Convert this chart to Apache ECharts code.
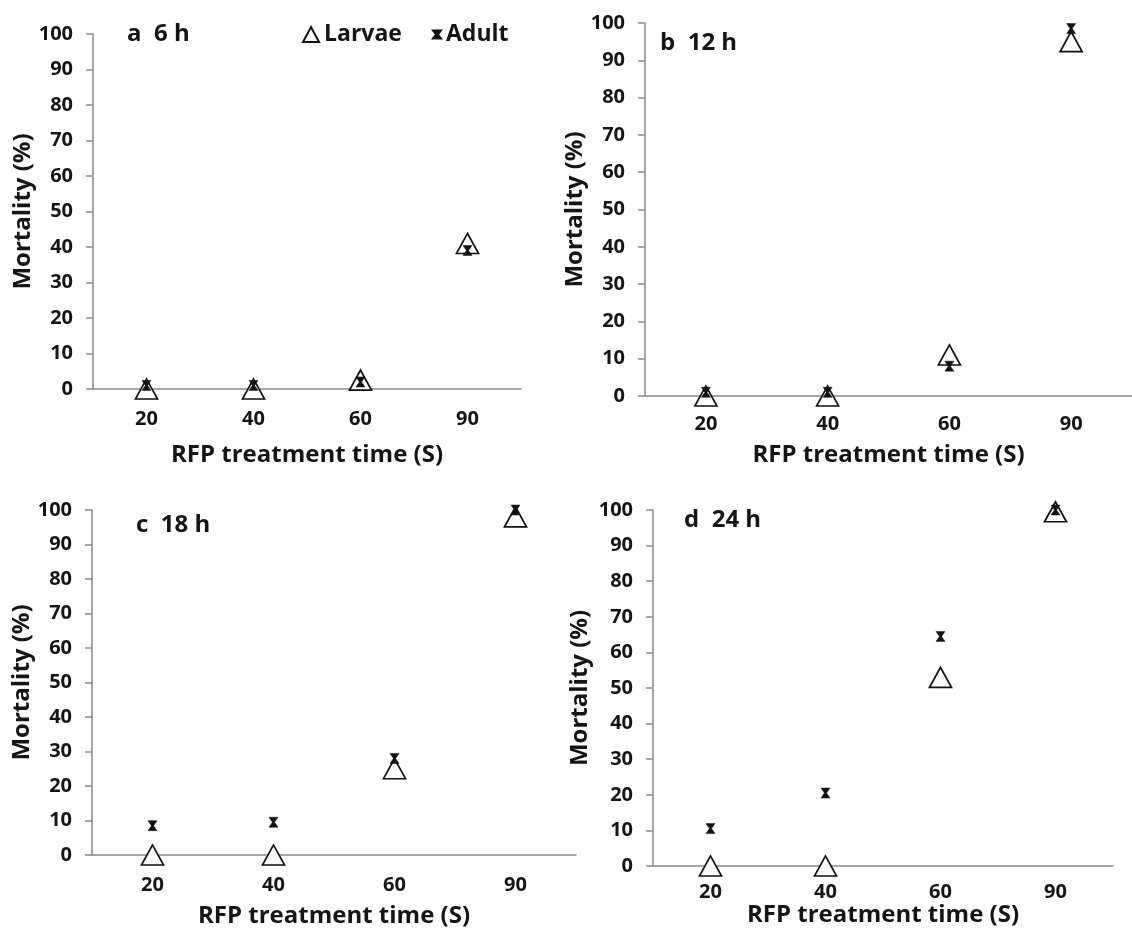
<!DOCTYPE html>
<html>
<head>
<meta charset="utf-8">
<script src="https://cdn.jsdelivr.net/npm/echarts@6/dist/echarts.min.js"></script>
<style>
html,body{margin:0;padding:0;background:#fff;}
#chart{width:1132px;height:929px;}
</style>
</head>
<body>
<div id="chart"></div>
<script>
// ---- data ----
const categories = ['20', '40', '60', '90'];
const panelTitles = ['a  6 h', 'b  12 h', 'c  18 h', 'd  24 h'];
const larvae6h  = [0, 0, 2.5, 41];
const adult6h   = [1, 1, 2, 39];
const larvae12h = [0, 0, 11, 95];
const adult12h  = [1, 1, 8, 98.5];
const larvae18h = [0, 0, 25, 98];
const adult18h  = [8.5, 9.5, 28, 100];
const larvae24h = [0, 0, 53, 99.5];
const adult24h  = [10.5, 20.5, 64.5, 100];
const yMin = 0, yMax = 100, yInterval = 10;
const xTitle = 'RFP treatment time (S)';
const yTitle = 'Mortality (%)';

const larvaeSets = [larvae6h, larvae12h, larvae18h, larvae24h];
const adultSets = [adult6h, adult12h, adult18h, adult24h];

// ---- layout ----
const grids = [
  {left: 93,  top: 34,  width: 428, height: 355},
  {left: 645, top: 23,  width: 488, height: 373},
  {left: 92,  top: 510, width: 484, height: 348},
  {left: 653, top: 510, width: 460, height: 356}
];
const xNameGaps = [54, 47, 49, 29];
const xLabelMargins = [20, 18, 20, 16];
const yNameGaps = [54, 53, 53, 61];
const titlePos = [[127, 22], [660, 31], [136, 513], [684, 508]];

const FONT = '"Open Sans", "DejaVu Sans", sans-serif';
const axisGray = '#8a8a8a';
const hourglass = 'path://M0,0 L10,0 L6.2,5 L10,10 L0,10 L3.8,5 Z';
const txt = '#151515';

const option = {
  backgroundColor: '#fff',
  animation: false,
  textStyle: {fontFamily: FONT},
  title: panelTitles.map((t, i) => ({
    text: t, left: titlePos[i][0], top: titlePos[i][1], padding: 0,
    textStyle: {fontFamily: FONT, fontSize: 24, fontWeight: 'bold', color: txt}
  })),
  legend: [
    {data: ['Larvae'], left: 302, top: 23, padding: 0, itemWidth: 16, itemHeight: 15,
     textStyle: {fontFamily: FONT, fontSize: 23, fontWeight: 'bold', color: txt}},
    {data: ['Adult'], left: 432, top: 23, padding: 0, itemWidth: 8, itemHeight: 10,
     textStyle: {fontFamily: FONT, fontSize: 23, fontWeight: 'bold', color: txt}}
  ],
  grid: grids.map(g => Object.assign({containLabel: false}, g)),
  xAxis: grids.map((g, i) => ({
    type: 'category', gridIndex: i, data: categories, boundaryGap: true,
    name: xTitle, nameLocation: 'middle', nameGap: xNameGaps[i],
    nameTextStyle: {fontFamily: FONT, fontSize: 24, fontWeight: 'bold', color: txt},
    axisLine: {lineStyle: {color: axisGray, width: 1.5}},
    axisTick: {show: false},
    axisLabel: {fontFamily: FONT, fontSize: 20, fontWeight: 'bold', color: txt, margin: xLabelMargins[i]},
    splitLine: {show: false}
  })),
  yAxis: grids.map((g, i) => ({
    type: 'value', gridIndex: i, min: yMin, max: yMax, interval: yInterval,
    name: yTitle, nameLocation: 'middle', nameGap: yNameGaps[i], nameRotate: 90,
    nameTextStyle: {fontFamily: FONT, fontSize: 24, fontWeight: 'bold', color: txt},
    axisLine: {show: true, lineStyle: {color: axisGray, width: 1.5}},
    axisTick: {show: true, inside: false, length: 7, lineStyle: {color: axisGray, width: 1.5}},
    axisLabel: {fontFamily: FONT, fontSize: 20, fontWeight: 'bold', color: txt, margin: 20},
    splitLine: {show: false}
  })),
  series: []
};

for (let i = 0; i < 4; i++) {
  option.series.push({
    name: 'Larvae', type: 'scatter', xAxisIndex: i, yAxisIndex: i,
    data: larvaeSets[i], symbol: 'triangle', symbolSize: [22, 20], clip: false, z: 2,
    itemStyle: {color: '#ffffff', borderColor: '#111', borderWidth: 1.7, opacity: 1}
  });
  option.series.push({
    name: 'Adult', type: 'scatter', xAxisIndex: i, yAxisIndex: i,
    data: adultSets[i], symbol: hourglass, symbolSize: [9, 10], clip: false, z: 3,
    itemStyle: {color: '#111', borderColor: '#111', borderWidth: 0.5, opacity: 1}
  });
}

const chart = echarts.init(document.getElementById('chart'), null, {renderer: 'canvas'});
chart.setOption(option);
</script>
</body>
</html>
